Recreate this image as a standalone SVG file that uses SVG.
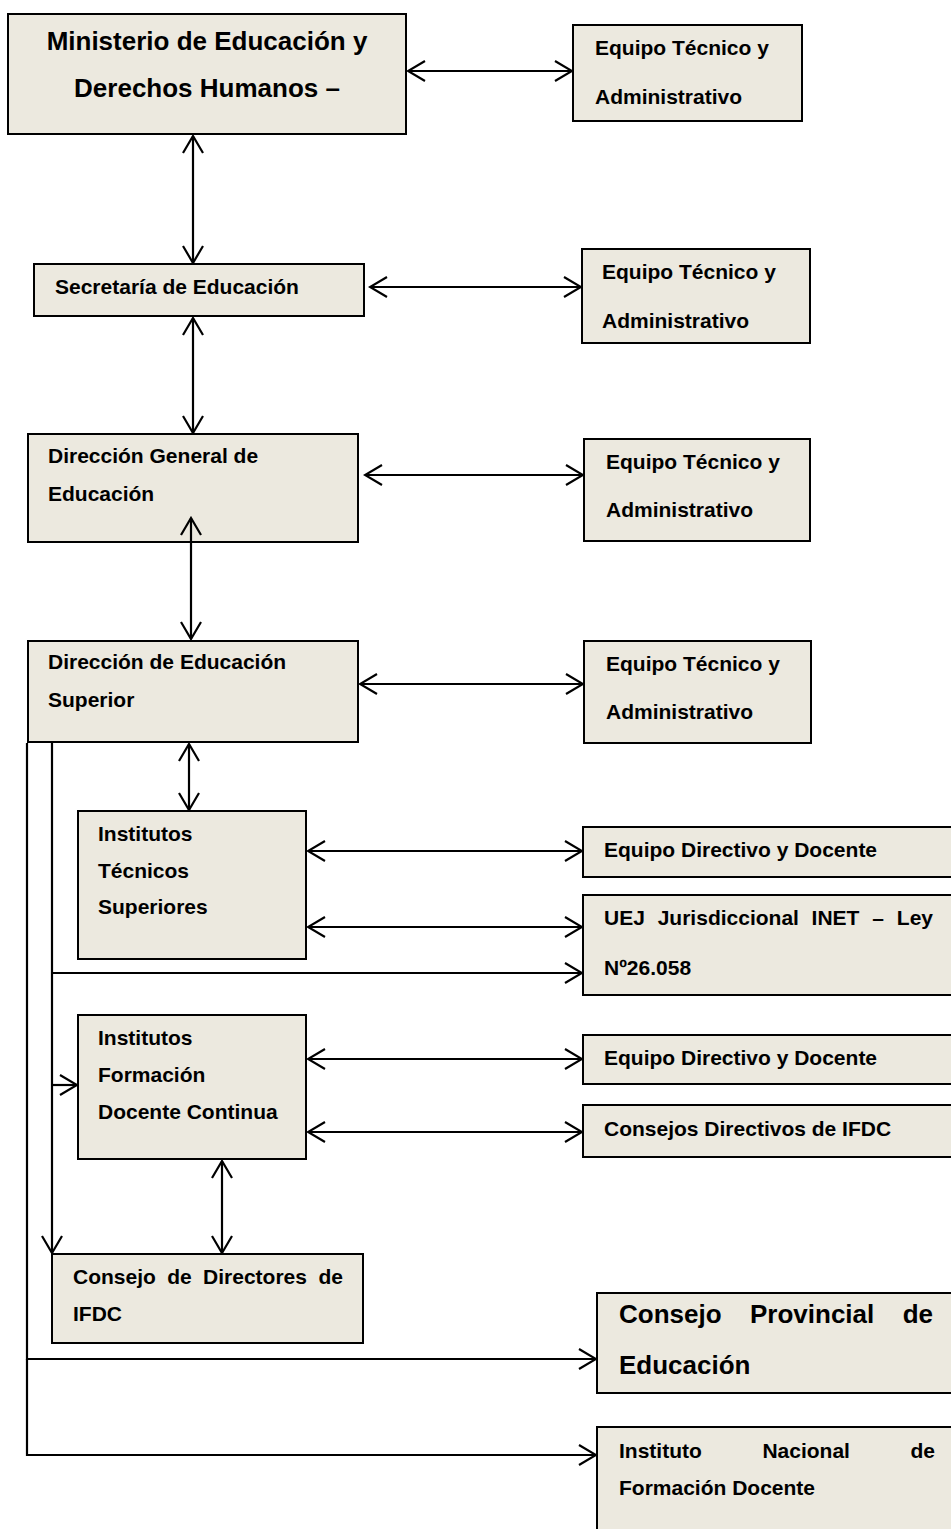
<svg xmlns="http://www.w3.org/2000/svg" width="951" height="1529" viewBox="0 0 951 1529">
<style>
.box{fill:#ECE9DF;stroke:#000;stroke-width:2}
.t{font-family:"Liberation Sans",Arial,sans-serif;font-weight:bold;font-size:21px;fill:#000}
.big{font-size:26px}
.c{fill:none;stroke:#000;stroke-width:2.2}
</style>
<defs>
<marker id="ah" viewBox="-19 -12 21 24" refX="0" refY="0" markerWidth="21" markerHeight="24" markerUnits="userSpaceOnUse" orient="auto-start-reverse">
<path d="M-17,-10 L0,0 L-17,10" fill="none" stroke="#000" stroke-width="2.2"/>
</marker>
</defs>
<rect width="951" height="1529" fill="#fff"/>

<g id="ministerio">
<rect class="box" x="8" y="14" width="398" height="120"/>
<text class="t big" x="207" y="50" text-anchor="middle">Ministerio de Educación y</text>
<text class="t big" x="207" y="97" text-anchor="middle">Derechos Humanos –</text>
</g>
<g id="equipo1">
<rect class="box" x="573" y="25" width="229" height="96"/>
<text class="t" x="595" y="55">Equipo Técnico y</text>
<text class="t" x="595" y="104">Administrativo</text>
</g>
<g id="secretaria">
<rect class="box" x="34" y="264" width="330" height="52"/>
<text class="t" x="55" y="294">Secretaría de Educación</text>
</g>
<g id="equipo2">
<rect class="box" x="582" y="249" width="228" height="94"/>
<text class="t" x="602" y="279">Equipo Técnico y</text>
<text class="t" x="602" y="328">Administrativo</text>
</g>
<g id="direccion-general">
<rect class="box" x="28" y="434" width="330" height="108"/>
<text class="t" x="48" y="463">Dirección General de</text>
<text class="t" x="48" y="501">Educación</text>
</g>
<g id="equipo3">
<rect class="box" x="584" y="439" width="226" height="102"/>
<text class="t" x="606" y="469">Equipo Técnico y</text>
<text class="t" x="606" y="517">Administrativo</text>
</g>
<g id="direccion-superior">
<rect class="box" x="28" y="641" width="330" height="101"/>
<text class="t" x="48" y="669">Dirección de Educación</text>
<text class="t" x="48" y="707">Superior</text>
</g>
<g id="equipo4">
<rect class="box" x="584" y="641" width="227" height="102"/>
<text class="t" x="606" y="671">Equipo Técnico y</text>
<text class="t" x="606" y="719">Administrativo</text>
</g>
<g id="institutos-tecnicos">
<rect class="box" x="78" y="811" width="228" height="148"/>
<text class="t" x="98" y="841">Institutos</text>
<text class="t" x="98" y="878">Técnicos</text>
<text class="t" x="98" y="914">Superiores</text>
</g>
<g id="equipo-directivo1">
<rect class="box" x="583" y="827" width="372" height="50"/>
<text class="t" x="604" y="857">Equipo Directivo y Docente</text>
</g>
<g id="uej">
<rect class="box" x="583" y="895" width="372" height="100"/>
<text class="t" x="604" y="925">UEJ</text>
<text class="t" x="657.7" y="925">Jurisdiccional</text>
<text class="t" x="811.6" y="925">INET</text>
<text class="t" x="872.3" y="925">–</text>
<text class="t" x="933" y="925" text-anchor="end">Ley</text>
<text class="t" x="604" y="975">Nº26.058</text>
</g>
<g id="institutos-formacion">
<rect class="box" x="78" y="1015" width="228" height="144"/>
<text class="t" x="98" y="1045">Institutos</text>
<text class="t" x="98" y="1082">Formación</text>
<text class="t" x="98" y="1119">Docente Continua</text>
</g>
<g id="equipo-directivo2">
<rect class="box" x="583" y="1035" width="372" height="49"/>
<text class="t" x="604" y="1065">Equipo Directivo y Docente</text>
</g>
<g id="consejos-directivos">
<rect class="box" x="583" y="1105" width="372" height="52"/>
<text class="t" x="604" y="1136">Consejos Directivos de IFDC</text>
</g>
<g id="consejo-directores">
<rect class="box" x="52" y="1254" width="311" height="89"/>
<text class="t" x="73" y="1284">Consejo</text>
<text class="t" x="167.2" y="1284">de</text>
<text class="t" x="203.1" y="1284">Directores</text>
<text class="t" x="343" y="1284" text-anchor="end">de</text>
<text class="t" x="73" y="1321">IFDC</text>
</g>
<g id="consejo-provincial">
<rect class="box" x="597" y="1293" width="358" height="100"/>
<text class="t big" x="619" y="1323">Consejo</text>
<text class="t big" x="750" y="1323">Provincial</text>
<text class="t big" x="933" y="1323" text-anchor="end">de</text>
<text class="t big" x="619" y="1374">Educación</text>
</g>
<g id="instituto-nacional">
<rect class="box" x="597" y="1427" width="358" height="110"/>
<text class="t" x="619" y="1458">Instituto</text>
<text class="t" x="762.4" y="1458">Nacional</text>
<text class="t" x="935" y="1458" text-anchor="end">de</text>
<text class="t" x="619" y="1495">Formación Docente</text>
</g>

<g id="connectors">
<line class="c" x1="408" y1="71" x2="572" y2="71" marker-start="url(#ah)" marker-end="url(#ah)"/>
<line class="c" x1="193" y1="136" x2="193" y2="263" marker-start="url(#ah)" marker-end="url(#ah)"/>
<line class="c" x1="370" y1="287" x2="581" y2="287" marker-start="url(#ah)" marker-end="url(#ah)"/>
<line class="c" x1="193" y1="318" x2="193" y2="433" marker-start="url(#ah)" marker-end="url(#ah)"/>
<line class="c" x1="365" y1="475" x2="583" y2="475" marker-start="url(#ah)" marker-end="url(#ah)"/>
<line class="c" x1="191" y1="518" x2="191" y2="639" marker-start="url(#ah)" marker-end="url(#ah)"/>
<line class="c" x1="360" y1="684" x2="583" y2="684" marker-start="url(#ah)" marker-end="url(#ah)"/>
<line class="c" x1="189" y1="744" x2="189" y2="810" marker-start="url(#ah)" marker-end="url(#ah)"/>
<line class="c" x1="308" y1="851" x2="582" y2="851" marker-start="url(#ah)" marker-end="url(#ah)"/>
<line class="c" x1="308" y1="927" x2="582" y2="927" marker-start="url(#ah)" marker-end="url(#ah)"/>
<line class="c" x1="308" y1="1059" x2="582" y2="1059" marker-start="url(#ah)" marker-end="url(#ah)"/>
<line class="c" x1="308" y1="1132" x2="582" y2="1132" marker-start="url(#ah)" marker-end="url(#ah)"/>
<line class="c" x1="222" y1="1161" x2="222" y2="1253" marker-start="url(#ah)" marker-end="url(#ah)"/>
<polyline class="c" points="52,743 52,1253" marker-end="url(#ah)"/>
<line class="c" x1="52" y1="973" x2="582" y2="973" marker-end="url(#ah)"/>
<line class="c" x1="52" y1="1085" x2="77" y2="1085" marker-end="url(#ah)"/>
<polyline class="c" points="27,743 27,1359 596,1359" marker-end="url(#ah)"/>
<polyline class="c" points="27,1359 27,1455 596,1455" marker-end="url(#ah)"/>
</g>
</svg>
